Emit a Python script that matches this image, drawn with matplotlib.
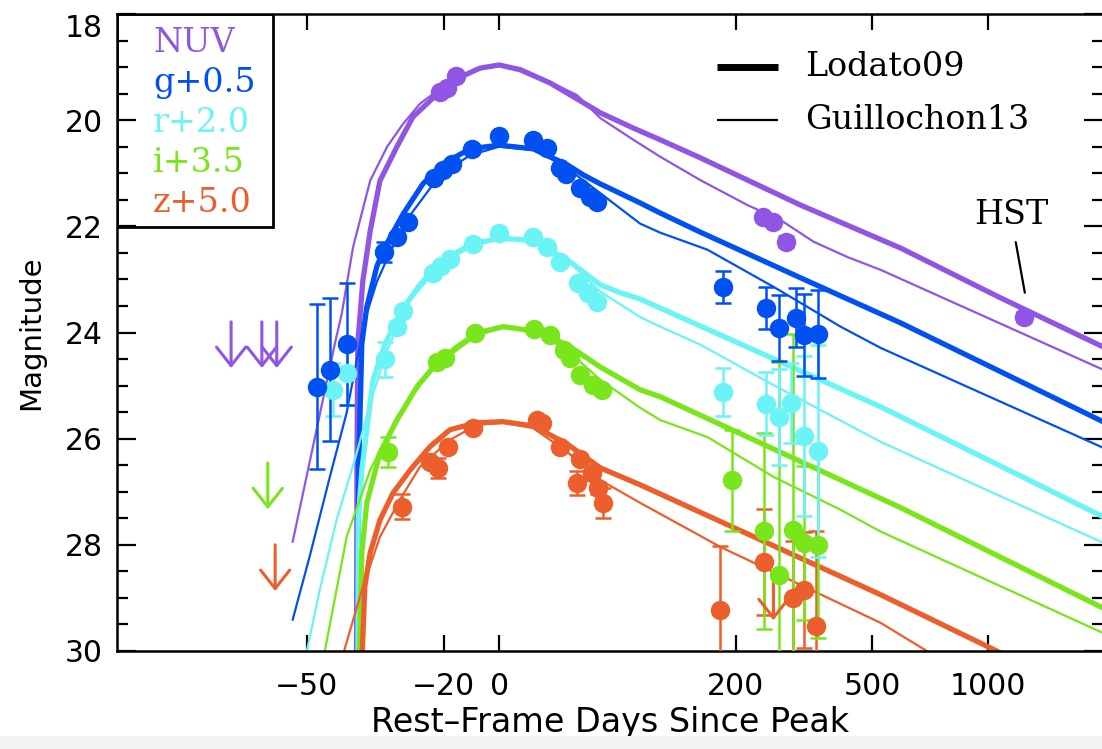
import numpy as np
import matplotlib
matplotlib.use('Agg')
import matplotlib.pyplot as plt
from matplotlib.patches import Rectangle

# x axis is log10(t + T_OFF): time measured from the disruption epoch
T_OFF = 77.5

c_nuv = '#9155E3'
c_g = '#0050F2'
c_r = '#6AF4F6'
c_i = '#78E61A'
c_z = '#EC5E2C'

# ---- photometry (band offsets already applied) ----
nuv_t = [-21.1, -18.9, -16.0, 244, 262, 285, 1230]
nuv_m = [19.47, 19.39, 19.17, 21.82, 21.92, 22.29, 23.71]
nuv_e = [0.05, 0.05, 0.05, 0.08, 0.08, 0.10, 0.10]
nuv_lim_t = [-59.2, -55.9, -54.1]
nuv_lim_m = [23.80, 23.80, 23.80]

g_t = [-48.4, -46.4, -43.4, -35.8, -32.8, -30.1, -22.9, -20.2, -17.4, -10.5, 0.0,
       15.6, 22.9, 30.2, 33.7, 42.4, 49.1, 54.0, 181.8, 247.8, 271.4, 304.9, 321.8, 353.0]
g_m = [25.02, 24.70, 24.21, 22.48, 22.20, 21.92, 21.09, 20.94, 20.82, 20.54, 20.30,
       20.37, 20.52, 20.90, 21.01, 21.28, 21.45, 21.54, 23.14, 23.54, 23.91, 23.72, 24.05, 24.03]
g_e = [1.56, 1.35, 1.15, 0.19, 0.08, 0.06, 0.05, 0.05, 0.05, 0.05, 0.05,
       0.05, 0.05, 0.05, 0.05, 0.05, 0.06, 0.06, 0.30, 0.40, 0.62, 0.55, 0.77, 0.83]

r_t = [-45.8, -43.4, -35.6, -32.8, -31.3, -23.2, -20.8, -18.0, -10.1, 0.0, 15.6,
       22.9, 30.2, 41.2, 47.7, 54.0, 181.8, 247.8, 271.4, 294.7, 321.8, 353.0]
r_m = [25.08, 24.76, 24.50, 23.89, 23.59, 22.88, 22.75, 22.61, 22.33, 22.12, 22.20,
       22.39, 22.67, 23.07, 23.25, 23.42, 25.12, 25.34, 25.59, 25.33, 25.95, 26.23]
r_e = [0.50, 0.60, 0.33, 0.10, 0.08, 0.06, 0.05, 0.05, 0.05, 0.05, 0.05,
       0.05, 0.05, 0.06, 0.06, 0.06, 0.45, 0.60, 0.90, 0.75, 1.50, 2.00]

i_t = [-34.9, -22.0, -19.6, -9.4, 16.1, 24.5, 32.5, 36.2, 42.4, 51.2, 57.6,
       194.8, 244.4, 271.4, 298.8, 321.8, 353.0]
i_m = [26.25, 24.55, 24.48, 24.01, 23.93, 24.05, 24.33, 24.48, 24.80, 24.99, 25.08,
       26.78, 27.74, 28.56, 27.72, 27.96, 28.00]
i_e = [0.28, 0.06, 0.06, 0.05, 0.05, 0.05, 0.06, 0.06, 0.06, 0.07, 0.07,
       0.95, 1.85, 4.00, 3.70, 1.45, 1.75]
i_lim_t = [-55.2]
i_lim_m = [26.46]

z_t = [-31.6, -24.1, -21.7, -18.6, -10.1, 17.6, 20.2, 30.2, 40.5, 42.4, 50.5, 54.7, 58.3,
       177.7, 246.0, 298.8, 321.8, 348.5]
z_m = [27.28, 26.44, 26.55, 26.15, 25.80, 25.65, 25.70, 26.15, 26.83, 26.38, 26.64, 26.93, 27.21,
       29.22, 28.32, 29.00, 28.85, 29.53]
z_e = [0.24, 0.08, 0.19, 0.08, 0.06, 0.06, 0.06, 0.08, 0.23, 0.08, 0.10, 0.12, 0.28,
       1.20, 1.00, 1.07, 1.10, 1.80]
z_lim_t = [-54.3, 262.0]
z_lim_m = [28.00, 28.55]

# ---- model light curves ----
lod_nuv_t = [-41.55, -41.45, -41.3, -40.3, -38.8, -36.7, -32.8, -28.8, -22.0, -14.7, -7.6, 0.0,
             9.3, 24.5, 34.3, 56.1, 82.2, 107.1, 151.6, 315.4, 596.1, 1077.5, 1925]
lod_nuv_m = [30.5, 26.5, 24.21, 23.03, 22.09, 21.14, 20.50, 19.94, 19.51, 19.19, 19.02, 18.96,
             19.05, 19.30, 19.49, 19.86, 20.15, 20.37, 20.71, 21.60, 22.41, 23.35, 24.27]
gui_nuv_t = [-52.0, -45.5, -44.3, -42.2, -38.8, -35.1, -31.3, -26.9, -22.0, -14.7, -7.6, 0.0,
             9.3, 24.5, 40.5, 56.1, 82.2, 107.1, 151.6, 217.7, 275.1, 343.9, 428.7, 527.3, 1925]
gui_nuv_m = [27.94, 24.21, 23.65, 22.39, 21.14, 20.50, 20.07, 19.69, 19.45, 19.19, 19.04, 18.98,
             19.02, 19.28, 19.53, 19.96, 20.37, 20.69, 21.13, 21.60, 21.88, 22.29, 22.58, 22.82, 24.70]

lod_g_t = [-41.35, -41.1, -40.5, -39.5, -37.4, -35.6, -31.3, -26.1, -20.2, -11.2, 0.0,
           15.6, 34.3, 44.4, 56.1, 88.2, 107.1, 151.6, 315.4, 596.1, 1077.5, 1925]
lod_g_m = [30.5, 26.5, 24.21, 23.52, 22.76, 22.39, 21.77, 21.20, 20.82, 20.54, 20.47,
           20.54, 20.84, 21.03, 21.20, 21.56, 21.75, 22.11, 22.97, 23.82, 24.74, 25.68]
gui_g_t = [-52.0, -49.5, -46.4, -43.4, -41.5, -39.9, -37.4, -34.4, -29.5, -21.1, -11.2, 0.0,
           15.6, 30.2, 44.4, 88.2, 107.1, 160.4, 262.2, 330.5, 409.9, 527.3, 1925]
gui_g_m = [29.41, 28.19, 26.74, 25.51, 24.52, 23.76, 23.05, 22.48, 21.79, 21.03, 20.66, 20.50,
           20.56, 20.82, 21.13, 21.95, 22.12, 22.44, 23.14, 23.52, 23.89, 24.29, 26.17]

lod_r_t = [-41.3, -41.2, -40.5, -38.2, -35.6, -32.1, -26.9, -21.1, -11.2, 0.0,
           15.6, 34.3, 56.1, 71.3, 88.2, 107.1, 527.3, 1925]
lod_r_m = [30.5, 27.53, 26.59, 24.89, 24.23, 23.63, 23.10, 22.67, 22.35, 22.22,
           22.27, 22.63, 23.10, 23.25, 23.37, 23.54, 25.40, 27.47]
gui_r_t = [-50.0, -48.0, -45.2, -41.5, -38.8, -35.1, -29.5, -21.1, -11.2, 0.0,
           15.6, 34.3, 56.1, 88.2, 107.1, 151.6, 262.2, 527.3, 1925]
gui_r_m = [30.01, 28.85, 27.53, 26.27, 25.33, 24.33, 23.39, 22.73, 22.39, 22.22,
           22.27, 22.63, 23.23, 23.71, 23.89, 24.23, 24.99, 26.06, 27.96]

lod_i_t = [-41.1, -40.5, -39.5, -36.7, -32.8, -27.7, -22.0, -15.7, -8.7, 1.7,
           15.6, 34.3, 56.1, 88.2, 107.1, 596.1, 1925]
lod_i_m = [30.5, 28.15, 27.21, 26.27, 25.65, 25.02, 24.57, 24.27, 24.01, 23.89,
           23.97, 24.23, 24.65, 25.08, 25.21, 27.30, 29.19]
gui_i_t = [-47.2, -43.4, -38.8, -32.8, -26.9, -22.0, -8.7, 1.7,
           15.6, 34.3, 56.1, 88.2, 107.1, 160.4, 262.2, 409.9, 527.3, 1925]
gui_i_m = [30.01, 27.85, 26.59, 25.59, 24.99, 24.61, 24.05, 23.91,
           23.97, 24.33, 24.89, 25.42, 25.65, 25.97, 26.72, 27.34, 27.75, 29.66]

lod_z_t = [-40.6, -39.9, -38.8, -36.7, -33.7, -29.5, -24.1, -18.0, -8.7, 1.7,
           15.6, 34.3, 56.1, 88.2, 527.3, 1059, 1925]
lod_z_m = [30.5, 28.79, 28.15, 27.53, 27.02, 26.59, 26.15, 25.83, 25.70, 25.68,
           25.76, 26.10, 26.55, 26.87, 28.94, 30.01, 31.0]
gui_z_t = [-43.9, -40.3, -36.7, -32.1, -26.9, -18.0, -8.7, 1.7,
           15.6, 34.3, 56.1, 88.2, 177.7, 527.3, 701.7, 1925]
gui_z_m = [30.01, 28.79, 27.85, 27.15, 26.53, 26.02, 25.74, 25.70,
           25.80, 26.25, 26.78, 27.21, 28.04, 29.47, 30.01, 31.6]

band_names = ['NUV', 'g+0.5', 'r+2.0', 'i+3.5', 'z+5.0']
band_colors = [c_nuv, c_g, c_r, c_i, c_z]
xticks = [-50, -20, 0, 200, 500, 1000]

sans_font = ['DejaVu Sans']
serif_font = ['DejaVu Serif']


def fwd(t):
    return np.log10(np.maximum(np.asarray(t, dtype=float) + T_OFF, 1e-3))


def inv(u):
    return 10.0 ** np.asarray(u, dtype=float) - T_OFF


fig = plt.figure(figsize=(11.02, 7.49), dpi=100)
# light strip along the bottom edge
fig.patches.append(Rectangle((0, 0), 1, 13 / 749, transform=fig.transFigure,
                             facecolor='#f3f3f3', edgecolor='none', zorder=0))
ax = fig.add_axes([117 / 1102, 98 / 749, 986 / 1102, 637 / 749])
ax.set_xscale('function', functions=(fwd, inv))
ax.set_xlim(-67.6, 1925)
ax.set_ylim(30, 18)

thick = 3.8
thin = 1.6
models = [(lod_nuv_t, lod_nuv_m, gui_nuv_t, gui_nuv_m, c_nuv),
          (lod_g_t, lod_g_m, gui_g_t, gui_g_m, c_g),
          (lod_r_t, lod_r_m, gui_r_t, gui_r_m, c_r),
          (lod_i_t, lod_i_m, gui_i_t, gui_i_m, c_i),
          (lod_z_t, lod_z_m, gui_z_t, gui_z_m, c_z)]
for lt, lm, gt, gm, c in models:
    ax.plot(gt, gm, color=c, lw=thin, zorder=2)
    ax.plot(lt, lm, color=c, lw=thick, zorder=2)

phot = [(nuv_t, nuv_m, nuv_e, c_nuv), (g_t, g_m, g_e, c_g), (r_t, r_m, r_e, c_r),
        (i_t, i_m, i_e, c_i), (z_t, z_m, z_e, c_z)]
for t, m, e, c in reversed(phot):
    ax.errorbar(t, m, yerr=e, fmt='o', color=c, ms=13, elinewidth=1.8,
                capsize=6, capthick=1.8, zorder=3)

# upper limits as down arrows
limits = [(nuv_lim_t, nuv_lim_m, c_nuv), (i_lim_t, i_lim_m, c_i), (z_lim_t, z_lim_m, c_z)]
for lt, lm, c in limits:
    for t, m in zip(lt, lm):
        ax.annotate('', xy=(t, m + 0.87), xytext=(t, m),
                    arrowprops=dict(arrowstyle='->, head_width=0.75, head_length=0.95',
                                    color=c, lw=2.2, mutation_scale=14,
                                    shrinkA=0, shrinkB=0), zorder=3)

# HST epoch label
ax.annotate('HST', xy=(1237, 23.25), xytext=(1142, 21.79), ha='center', va='center',
            fontsize=24, family=serif_font,
            arrowprops=dict(arrowstyle='-', color='black', lw=1.6, shrinkA=6, shrinkB=0))

# band key in the upper-left box
ax.add_patch(Rectangle((0, 0.666), 0.158, 0.334, transform=ax.transAxes, fill=False,
                       lw=2, edgecolor='black', zorder=5))
for k, (name, c) in enumerate(zip(band_names, band_colors)):
    ax.text(0.0365, 0.9545 - k * 0.0629, name, color=c, transform=ax.transAxes,
            fontsize=24, family=serif_font, va='center', ha='left', zorder=6)

# model key
for yk, lw, name in [(0.9168, 5.0, 'Lodato09'), (0.8336, 1.6, 'Guillochon13')]:
    ax.plot([0.6085, 0.6704], [yk, yk], color='black', lw=lw, transform=ax.transAxes,
            solid_capstyle='butt')
    ax.text(0.6978, yk, name, transform=ax.transAxes, fontsize=24, family=serif_font,
            va='center', ha='left')

ax.set_xticks(xticks)
ax.set_xticklabels([str(v).replace('-', '\u2212') for v in xticks])
ax.xaxis.set_minor_locator(matplotlib.ticker.NullLocator())
ax.set_yticks(np.arange(18, 31, 2))
ax.set_yticks(np.arange(18, 30.01, 0.5), minor=True)
ax.tick_params(axis='both', which='major', direction='in', top=True, right=True,
               width=1.6, labelsize=21.5)
ax.tick_params(axis='x', which='major', length=11.5, pad=15)
ax.tick_params(axis='y', which='major', length=13.5, pad=10)
ax.tick_params(axis='y', which='minor', direction='in', right=True, length=8, width=1.6)
for lab in ax.get_xticklabels() + ax.get_yticklabels():
    lab.set_family(sans_font)
# keep the top label inside the frame
ax.get_yticklabels()[0].set_verticalalignment('top')
for sp in ax.spines.values():
    sp.set_linewidth(1.8)

ax.set_xlabel('Rest\u2013Frame Days Since Peak', fontsize=24, family=sans_font, labelpad=4)
ax.set_ylabel('Magnitude', fontsize=21, family=sans_font, labelpad=14)

fig.savefig('out.png', dpi=100)
